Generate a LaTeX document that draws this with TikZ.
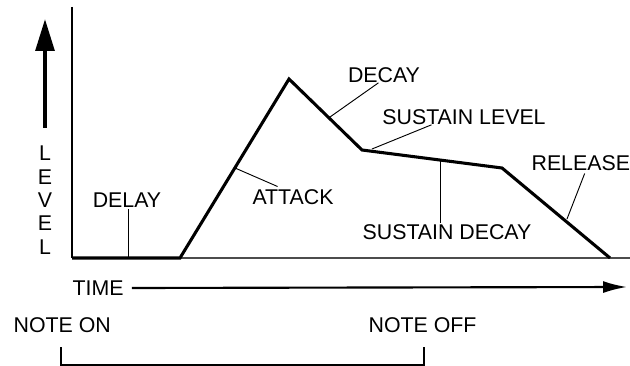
\documentclass[tikz,border=0pt]{standalone}
\usepackage{fontspec}
\setmainfont{Liberation Sans}
\usetikzlibrary{arrows.meta}
\tikzset{
  every node/.style={
    text=black, inner sep=1pt, font=\fontsize{16}{18}\selectfont
  },
  envelope/.style={line width=2.3pt, line join=miter},
  leader/.style={line width=0.7pt}
}

\begin{document}
\begin{tikzpicture}[x=0.75pt, y=-0.75pt]
    \useasboundingbox (0,0) rectangle (630,366);

    % axes
    \coordinate (top) at (72,7);
    \coordinate (origin) at (72,258);
    \coordinate (far) at (630,258);
    \draw [line width=1.2pt] (top) -- (origin);
    \draw [line width=0.8pt, black!70] (origin) -- (far);

    % envelope
    \coordinate (start) at (180,258);
    \coordinate (peak) at (289,79);
    \coordinate (sus) at (362,150);
    \coordinate (off) at (502,168);
    \coordinate (end) at (610,258);
    \draw [envelope] (origin) -- (start) -- (peak) -- (sus) -- (off) -- (end);

    % level arrow and letters
    \coordinate (lvlbase) at (45,128);
    \coordinate (lvltip) at (45,19);
    \draw [line width=3pt, -{Triangle[length=24pt, width=14pt]}] (lvlbase) -- (lvltip);
    \foreach \ch/\y [count=\i] in {L/153, E/177, V/200, E/223, L/247}
      \node (lvl\i) at (45,\y) {\ch};

    % labels
    \node (delay) at (127,200) {DELAY};
    \node (attack) at (293,197) {ATTACK};
    \node (decay) at (384,75) {DECAY};
    \node (suslevel) at (464,117) {SUSTAIN LEVEL};
    \node (susdecay) at (447,232) {SUSTAIN DECAY};
    \node [anchor=west] (release) at (530,163) {RELEASE};

    \coordinate (delaypt) at (128,258);
    \coordinate (attackpt) at (235,168);
    \coordinate (decaypt) at (330,117);
    \coordinate (suslevelpt) at (372,149);
    \coordinate (susdecaypt) at (440,161);
    \coordinate (releasept) at (567,219);
    \draw [leader] (delaypt) -- (delaypt |- delay.south);
    \draw [leader] (attackpt) -- ([xshift=20pt, yshift=1pt]attack.north west);
    \draw [leader] (decaypt) -- ([xshift=24pt, yshift=1pt]decay.south west);
    \draw [leader] (suslevelpt) -- ([xshift=38pt, yshift=1pt]suslevel.south west);
    \draw [leader] (susdecaypt) -- (susdecaypt |- susdecay.north);
    \draw [leader] (releasept) -- ([xshift=41pt, yshift=-1pt]release.south west);

    % time axis
    \node [anchor=west] (time) at (71,288) {TIME};
    \coordinate (timeend) at (627,287);
    \draw [line width=1.6pt, -{Latex[length=18pt, width=9pt]}] ([xshift=5pt]time.east) -- (timeend);

    % note on / note off
    \node [anchor=west] (noteon) at (12,325) {NOTE ON};
    \node [anchor=west] (noteoff) at (367,325) {NOTE OFF};
    \coordinate (onmark) at (61,347);
    \coordinate (offmark) at (424,347);
    \draw [line width=1.2pt] (onmark) -- ++(0,18) -| (offmark);
\end{tikzpicture}
\end{document}
